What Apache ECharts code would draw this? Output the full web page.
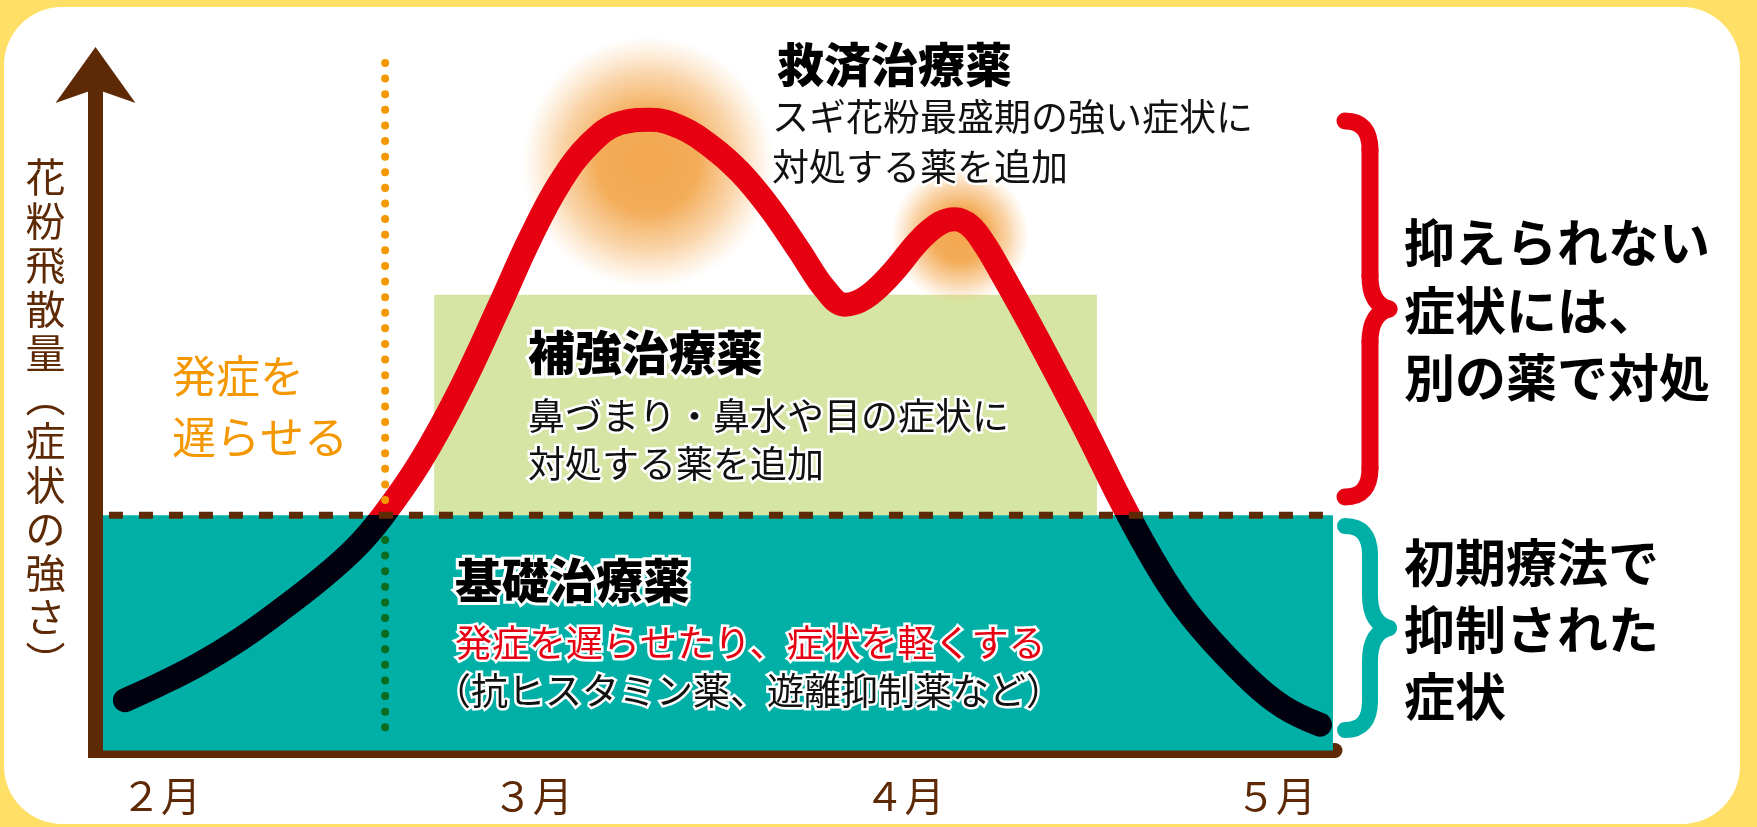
<!DOCTYPE html>
<html lang="ja">
<head>
<meta charset="utf-8">
<title>花粉症の治療</title>
<script src="https://cdn.jsdelivr.net/npm/echarts@6/dist/echarts.min.js"></script>
<style>
  html, body { margin: 0; padding: 0; background: #FFDF66; }
  #chart { width: 1757px; height: 827px; }
</style>
</head>
<body>
<div id="chart"></div>
<script>
// x = months after the start of February, y = symptom strength (0-100)
var monthLabels = ['２月', '３月', '４月', '５月'];
var monthTicks  = [0, 1, 2, 3];

// pollen / symptom curve
var curveMonths = [-0.097, -0.003, 0.105, 0.213, 0.320, 0.428, 0.522, 0.597, 0.697, 0.804,
                   0.912, 0.993, 1.073, 1.154, 1.235, 1.316, 1.396, 1.477, 1.558, 1.638,
                   1.719, 1.786, 1.840, 1.894, 1.961, 2.042, 2.096, 2.136, 2.177, 2.217,
                   2.257, 2.311, 2.365, 2.481, 2.599, 2.707, 2.795, 2.930, 3.019, 3.118];
var curveLevels = [7.6, 10.0, 13.1, 16.8, 21.1, 25.8, 30.5, 35.4, 43.5, 54.4,
                   67.3, 77.3, 85.7, 91.6, 94.7, 95.2, 94.1, 91.3, 87.3, 81.9,
                   75.3, 69.7, 67.3, 68.3, 71.7, 77.1, 79.6, 80.2, 79.2, 76.3,
                   72.5, 67.1, 61.5, 49.1, 35.9, 25.3, 18.6, 10.6, 6.6, 3.9];

// level that the initial therapy keeps symptoms under
var baseLevel = 35.5;
// teal band (basic therapy) and green band (add-on therapy)
var baseBandMonths  = [-0.156, 3.153];
var extraBandMonths = [0.735, 2.518];
var extraBandTop    = 68.8;
// dashed threshold line
var thresholdMonths = [-0.14, 3.145];

// onset delayed: dotted marker
var onsetMonth = 0.603;
var onsetUpper = [37.8, 104.2];
var onsetLower = [3.5, 31.8];

// glow around the two peaks
var glowMonths = [1.310, 2.150];
var glowLevels = [88.8, 77.8];

var brown = '#5E2A06';
var red = '#E60012';
var teal = '#00AFA6';
var jp = '"Noto Sans CJK JP", "Noto Sans", sans-serif';

function pairs(xs, ys) {
  return xs.map(function (x, i) { return [x, ys[i]]; });
}

// curly bracket "}" made of lines and quadratic curves
function bracket(top, bottom, color, width) {
  var x0 = 1345, x1 = 1370, x2 = 1389, mid = (top + bottom) / 2;
  var st = { fill: null, stroke: color, lineWidth: width, lineCap: 'round' };
  function curve(a, b, c, d, cx, cy) {
    return { type: 'bezierCurve', z: 10, silent: true, style: st,
             shape: { x1: a, y1: b, x2: c, y2: d, cpx1: cx, cpy1: cy } };
  }
  function seg(a, b, c, d) {
    return { type: 'line', z: 10, silent: true, style: st,
             shape: { x1: a, y1: b, x2: c, y2: d } };
  }
  return [
    curve(x0, top, x1, top + 29, x1, top),
    seg(x1, top + 29, x1, mid - 33),
    curve(x1, mid - 33, x2, mid, x1, mid - 5),
    curve(x2, mid, x1, mid + 33, x1, mid + 5),
    seg(x1, mid + 33, x1, bottom - 29),
    curve(x1, bottom - 29, x0, bottom, x1, bottom)
  ];
}

function label(x, y, text, font, fill, outline, lh) {
  var style = { text: text, font: font, fill: fill, textVerticalAlign: 'middle' };
  if (outline) { style.stroke = '#fff'; style.lineWidth = outline; }
  if (lh) { style.lineHeight = lh; }
  return { type: 'text', z: 20, silent: true, x: x, y: y, style: style };
}

var glowGradient = {
  type: 'radial', x: 0.5, y: 0.5, r: 0.5,
  colorStops: [
    { offset: 0,    color: 'rgba(243,166,78,1)' },
    { offset: 0.4,  color: 'rgba(243,168,80,0.95)' },
    { offset: 0.7,  color: 'rgba(245,178,100,0.55)' },
    { offset: 1,    color: 'rgba(250,195,130,0)' }
  ]
};

var chart = echarts.init(document.getElementById('chart'));

var graphics = [
  { type: 'rect', z: -10, silent: true,
    shape: { x: 4, y: 7, width: 1736, height: 817, r: 58 }, style: { fill: '#fff' } }
];
graphics = graphics.concat(bracket(121, 497, red, 17), bracket(526, 730, teal, 16));
graphics.push(
  label(1404, 310.5, '抑えられない\n症状には、\n別の薬で対処', 'bold 51px ' + jp, '#000', 0, 67.5),
  label(1404, 630, '初期療法で\n抑制された\n症状', 'bold 51px ' + jp, '#000', 0, 67),

  label(172, 376, '発症を', '44px ' + jp, '#F39800'),
  label(172, 437, '遅らせる', '44px ' + jp, '#F39800'),

  label(777, 64, '救済治療薬', '900 47px ' + jp, '#000', 6),
  label(772, 117, 'スギ花粉最盛期の強い症状に', '37px ' + jp, '#111', 5),
  label(772, 167, '対処する薬を追加', '37px ' + jp, '#111', 5),

  label(528, 352, '補強治療薬', '900 47px ' + jp, '#000', 6),
  label(528, 416, '鼻づまり・鼻水や目の症状に', '37px ' + jp, '#111', 5),
  label(528, 464, '対処する薬を追加', '37px ' + jp, '#111', 5),

  label(455, 580, '基礎治療薬', '900 47px ' + jp, '#000', 6),
  label(455, 643, '発症を遅らせたり、症状を軽くする', '37px ' + jp, red, 5),
  label(434, 691, '（抗ヒスタミン薬、遊離抑制薬など）', '37px ' + jp, '#111', 5)
);

var option = {
  backgroundColor: '#FFDF66',
  animation: false,
  grid: { left: 95.5, right: 422, top: 88, bottom: 76.5 },
  xAxis: {
    type: 'value',
    min: -0.1762,
    max: 3.1585,
    axisLine: { onZero: false, lineStyle: { color: brown, width: 15 } },
    axisTick: { show: false },
    splitLine: { show: false },
    axisLabel: {
      customValues: monthTicks,
      formatter: function (v) { return monthLabels[monthTicks.indexOf(v)]; },
      color: brown, fontSize: 40, fontFamily: jp, margin: 25
    }
  },
  yAxis: {
    type: 'value',
    min: 0,
    max: 100,
    name: '花粉飛散量︵症状の強さ︶'.split('').join('\n'),
    nameLocation: 'middle',
    nameRotate: 0,
    nameGap: 30,
    nameTextStyle: { color: brown, fontSize: 40, lineHeight: 44, fontFamily: jp, padding: [0, 0, 12, 0] },
    axisLine: {
      onZero: false,
      symbol: ['none', 'arrow'],
      symbolSize: [60, 56],
      symbolOffset: [0, 41],
      lineStyle: { color: brown, width: 15, cap: 'square' }
    },
    axisTick: { show: false },
    axisLabel: { show: false },
    splitLine: { show: false }
  },
  visualMap: {
    show: false,
    type: 'piecewise',
    seriesIndex: 2,
    dimension: 1,
    pieces: [
      { gte: -10, lt: baseLevel, color: '#00000E' },
      { gte: baseLevel, lte: 110, color: red }
    ]
  },
  series: [
    {
      // treatment bands
      type: 'line',
      data: [],
      silent: true,
      clip: false,
      markArea: {
        silent: true,
        data: [
          [{ xAxis: extraBandMonths[0], yAxis: baseLevel, itemStyle: { color: '#D6E5A4' } },
           { xAxis: extraBandMonths[1], yAxis: extraBandTop }],
          [{ xAxis: baseBandMonths[0], yAxis: 0, itemStyle: { color: teal } },
           { xAxis: baseBandMonths[1], yAxis: baseLevel }]
        ]
      }
    },
    {
      type: 'scatter',
      silent: true,
      z: 2,
      symbol: 'circle',
      symbolSize: function (v, p) { return p.dataIndex === 0 ? 252 : 138; },
      itemStyle: { color: glowGradient, opacity: 1 },
      data: pairs(glowMonths, glowLevels)
    },
    {
      type: 'line',
      z: 3,
      silent: true,
      smooth: 0.4,
      showSymbol: false,
      lineStyle: { width: 24, cap: 'round', join: 'round' },
      data: pairs(curveMonths, curveLevels)
    },
    {
      type: 'line',
      z: 4,
      silent: true,
      clip: false,
      showSymbol: false,
      lineStyle: { color: brown, width: 7, type: [14, 16] },
      data: [[thresholdMonths[0], baseLevel], [thresholdMonths[1], baseLevel]]
    },
    {
      type: 'line',
      z: 4,
      silent: true,
      clip: false,
      showSymbol: false,
      lineStyle: { color: '#F39800', width: 8, type: [0.01, 15.6], cap: 'round' },
      data: [[onsetMonth, onsetUpper[0]], [onsetMonth, onsetUpper[1]]]
    },
    {
      type: 'line',
      z: 4,
      silent: true,
      clip: false,
      showSymbol: false,
      lineStyle: { color: '#0B6B1E', width: 8, type: [0.01, 15.6], cap: 'round' },
      data: [[onsetMonth, onsetLower[0]], [onsetMonth, onsetLower[1]]]
    }
  ],
  graphic: graphics
};

chart.setOption(option);
</script>
</body>
</html>
